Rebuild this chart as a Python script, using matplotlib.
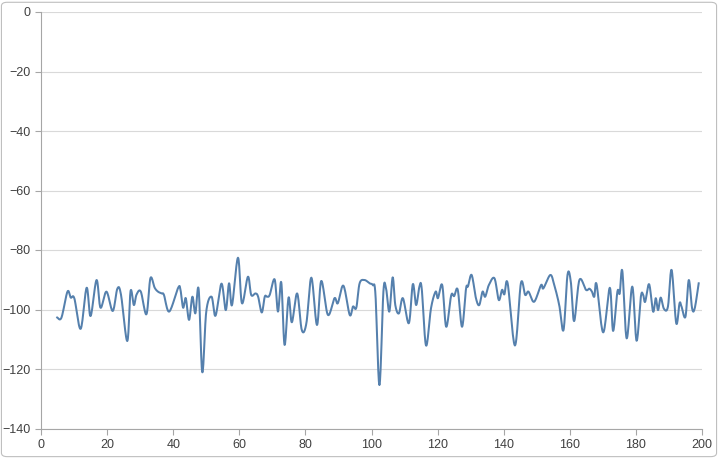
import numpy as np
import matplotlib.pyplot as plt
from matplotlib.patches import FancyBboxPatch

# points
x_pts = [4.9, 6.2, 8.0, 9.0, 10.1, 12.0, 13.8, 15.0, 16.8, 18.0, 19.8, 21.7, 23.1, 24.2, 26.1, 27.1, 28.1, 28.9,
         30.2, 31.9, 33.1, 34.4,
         35.4, 36.5, 37.2, 38.8, 41.5, 42.2, 43.0, 43.8, 44.8, 45.8, 46.7, 47.7, 48.8, 50.0, 51.6, 52.8, 54.6,
         55.9, 56.9, 57.8, 59.6, 60.8, 62.6, 63.6, 64.9, 65.7, 66.8,
         67.7, 68.4, 69.2, 70.7, 71.7, 72.7, 73.7, 74.9, 75.9, 77.5, 78.9, 80.3, 81.8, 83.5, 84.8, 86.8, 88.8,
         89.8, 91.5, 93.4, 94.4, 95.4, 96.4, 97.9, 99.4,
         100.4, 101.2, 102.4, 103.6, 104.4, 105.4, 106.4, 107.2, 108.3, 109.5, 111.3, 112.5, 113.5, 114.5, 115.2,
         116.5, 118.0, 119.4, 120.1, 121.4, 122.6, 124.1, 125.0, 126.1, 127.4, 128.6, 129.2, 130.3, 131.6, 132.6,
         133.6,
         134.4, 135.5, 137.2, 138.5, 139.5, 140.2, 141.2, 143.4, 145.2, 146.5, 147.5, 149.2, 151.3, 152.0, 154.1,
         155.3, 156.8, 158.1, 159.3, 160.3, 161.3, 162.9, 164.9, 165.9,
         166.7, 167.4, 168.1, 170.1, 172.1, 173.1, 174.4, 175.1, 175.9, 177.2, 178.9, 180.2, 181.5, 182.2, 182.8,
         184.0, 185.2, 186.0, 186.7, 187.5, 188.5, 189.7, 190.8, 192.2, 193.2, 193.8, 195.0, 196.0, 197.0, 197.8,
         199.0]
y_pts = [-102.7, -102.7, -94, -96, -96.3, -106.5, -92.7, -102.2, -90.1, -99.4, -94, -100.5, -93, -95, -110.6,
         -93.8, -98.5, -95, -94, -101.6, -89.5, -92.7,
         -94, -94.6, -95.1, -100.7, -92.7, -93.4, -99.4, -96.2, -103.5, -95.7, -101.3, -93.2, -121.1, -100.7,
         -95.7, -102.1, -91.3, -100.2, -91.2, -98.5, -82.6, -97.9, -89, -95.1, -94.6, -95.7, -101,
         -95.7, -95.7, -95.1, -89.9, -100.7, -90.9, -111.9, -96, -104.3, -94.6, -106.9, -104.6, -89.3, -105.2,
         -90.4, -101.8, -96.2, -97.9, -92, -101.8, -99, -99.4, -91.2, -90.1, -91.2,
         -91.8, -95, -125.4, -94, -92.9, -100.7, -89.2, -98.5, -101.3, -96.2, -104.6, -91.5, -98.5, -92.3, -93,
         -112.1, -99.6, -94, -96.2, -91.8, -105.8, -95.3, -95.5, -93.4, -105.8, -93, -92.2, -88.4, -96.2, -98.5,
         -94,
         -95.7, -91.8, -89.5, -96.8, -93.4, -94.9, -91.2, -112.1, -91.2, -95.1, -94, -97.4, -91.8, -92.9, -88.4,
         -91.8, -98.5, -106.9, -88.4, -90.6, -103.9, -90.1, -93.4, -93,
         -94, -95.7, -91.5, -107.7, -92.7, -107.2, -94, -94.6, -87.1, -109.7, -92.3, -110.5, -95.7, -95.1, -97.4,
         -91.5, -100.7, -96.2, -100.2, -96, -99.8, -99, -86.7, -104.6, -97.9, -99, -102.4, -90.1, -99.6, -99.6,
         -91.2]

x_ticks = list(range(0, 201, 20))
y_ticks = list(range(-140, 1, 20))


def smooth(x, y, n=14):
    # bezier segments, same idea as a spreadsheet "smoothed line"
    p = np.column_stack([x, y])
    p = np.vstack([p[0], p, p[-1]])
    t = np.linspace(0, 1, n, endpoint=False)[:, None]
    out = []
    for i in range(1, len(p) - 2):
        p0, p1, p2, p3 = p[i - 1], p[i], p[i + 1], p[i + 2]
        c1 = p1 + (p2 - p0) / 6
        c2 = p2 - (p3 - p1) / 6
        out.append((1 - t) ** 3 * p1 + 3 * (1 - t) ** 2 * t * c1 + 3 * (1 - t) * t ** 2 * c2 + t ** 3 * p2)
    out.append(p[-2][None])
    arr = np.vstack(out)
    return arr[:, 0], arr[:, 1]


plt.rcParams['font.family'] = ['Liberation Sans', 'DejaVu Sans']

fig = plt.figure(figsize=(7.18, 4.58), dpi=100)
ax = fig.add_axes([41 / 718, 1 - 428.5 / 458, 661 / 718, 416.5 / 458])

sx, sy = smooth(x_pts, y_pts)
ax.plot(sx, sy, color='#5580ad', lw=1.45, solid_joinstyle='round')

ax.set_xlim(0, 200)
ax.set_ylim(-140, 0)
ax.set_xticks(x_ticks)
ax.set_yticks(y_ticks)
ax.grid(axis='y', color='#d9d9d9', lw=0.8)
ax.set_axisbelow(True)
for s in ['top', 'right']:
    ax.spines[s].set_visible(False)
for s in ['left', 'bottom']:
    ax.spines[s].set_color('#a6a6a6')
    ax.spines[s].set_linewidth(0.8)
ax.tick_params(colors='#a6a6a6', length=4, width=0.8, labelcolor='#404040', labelsize=9)

fig.patches.append(FancyBboxPatch((0.002, 0.003), 0.996, 0.992, boxstyle='round,pad=0,rounding_size=0.008',
                                  transform=fig.transFigure, fill=False, edgecolor='#bfbfbf', lw=0.8))

fig.savefig('out.png', dpi=100)
